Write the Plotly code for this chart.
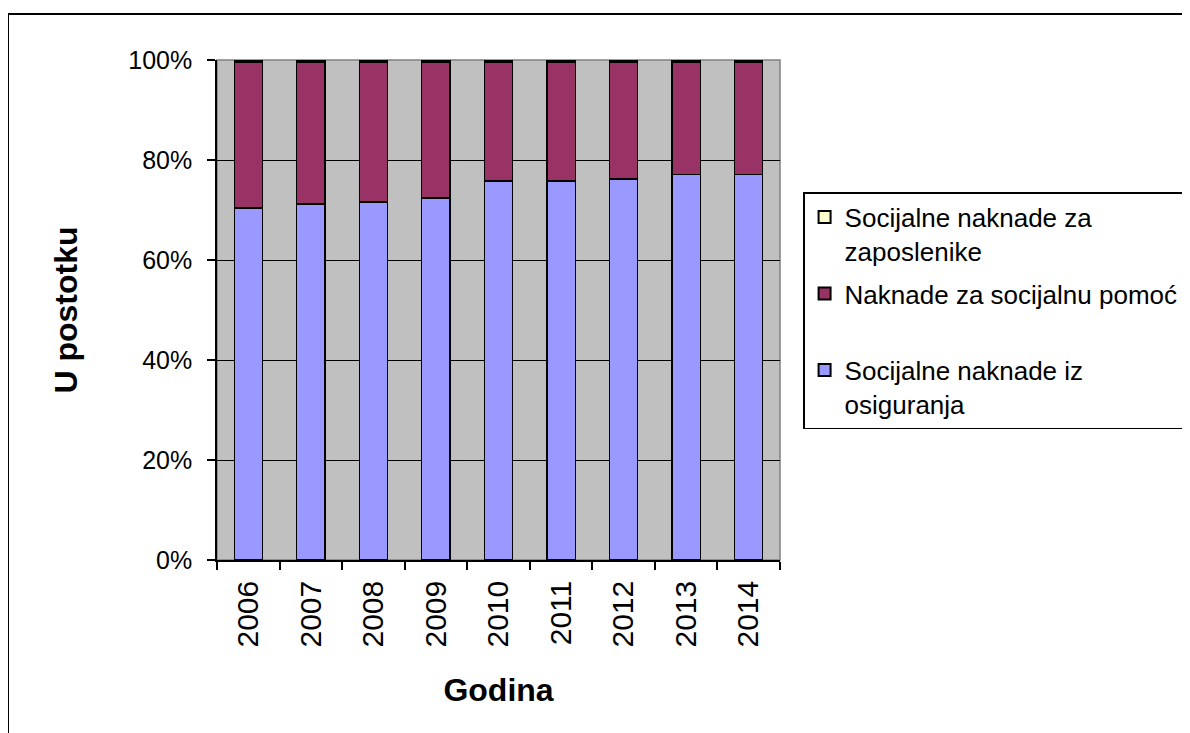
import plotly.graph_objects as go

years = ["2006", "2007", "2008", "2009", "2010", "2011", "2012", "2013", "2014"]
osiguranje = [70.4, 71.2, 71.6, 72.4, 75.8, 75.8, 76.2, 77.1, 77.1]
zaposlenici = [0.4, 0.4, 0.4, 0.4, 0.4, 0.4, 0.4, 0.4, 0.4]
socijalna_pomoc = [round(100 - a - b, 1) for a, b in zip(osiguranje, zaposlenici)]

names = ["Socijalne naknade iz<br>osiguranja",
         "Naknade za socijalnu pomoć<br> ",
         "Socijalne naknade za<br>zaposlenike"]
colors = ["#9999FF", "#993366", "#FFFFCC"]
ranks = [3, 2, 1]
series = [osiguranje, socijalna_pomoc, zaposlenici]

FONT = "Liberation Sans, Arial, sans-serif"

fig = go.Figure()
for i, (name, vals, col, rk) in enumerate(zip(names, series, colors, ranks)):
    fig.add_trace(go.Bar(
        x=years, y=vals, name=name, legendgroup=f"g{i}", legendrank=rk,
        marker=dict(color=col, line=dict(color="black", width=1.2)),
    ))

# page body has an 8px margin: compensate so the plot area sits at 217..780 x 60..560
fig.update_layout(
    width=1190, height=733,
    barmode="stack", bargap=0.55,
    plot_bgcolor="#C0C0C0", paper_bgcolor="white",
    margin=dict(l=209, r=418, t=52, b=181, autoexpand=False),
    font=dict(family=FONT, color="black"),
    showlegend=True,
    legend=dict(
        x=1.041, y=0.736, xanchor="left", yanchor="top",
        traceorder="grouped", valign="top",
        bordercolor="black", borderwidth=1.5, bgcolor="white",
        font=dict(size=26, family=FONT),
        tracegroupgap=6, itemsizing="constant",
    ),
    xaxis=dict(
        type="category",
        tickangle=-90, tickfont=dict(size=30),
        ticks="outside", tickson="boundaries", ticklen=8, tickwidth=1.5, tickcolor="black",
        ticklabelstandoff=7,
        showline=True, linecolor="black", linewidth=1.5,
        showgrid=False,
        title=dict(text="<b>Godina</b>", font=dict(size=32), standoff=32),
        automargin=False,
    ),
    yaxis=dict(
        range=[0, 100], tickvals=[0, 20, 40, 60, 80, 100],
        ticktext=["0%", "20%", "40%", "60%", "80%", "100%"],
        tickfont=dict(size=25),
        ticks="outside", ticklen=8, tickwidth=1.5, tickcolor="black",
        ticklabelstandoff=10,
        showline=True, linecolor="black", linewidth=1.5,
        showgrid=True, gridcolor="black", gridwidth=1.2,
        zeroline=False,
        title=dict(text="<b>U postotku</b>", font=dict(size=32), standoff=41),
        automargin=False,
    ),
    shapes=[
        dict(type="rect", xref="paper", yref="paper",
             x0=0, x1=1, y0=0, y1=1, line=dict(color="#808080", width=1.5),
             layer="below"),
        dict(type="rect", xref="paper", yref="paper",
             x0=(8 - 217) / 563, x1=(1196 - 217) / 563,
             y0=(560 - 745) / 500, y1=(560 - 14) / 500,
             line=dict(color="black", width=2), fillcolor="rgba(0,0,0,0)"),
    ],
)

fig.write_html("out.html")
